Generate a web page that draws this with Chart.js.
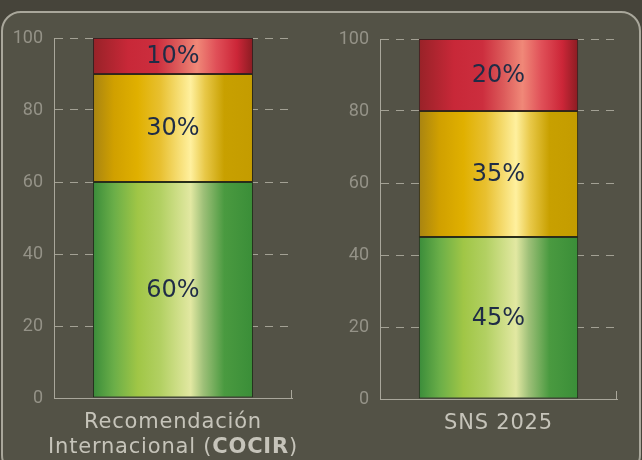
<!DOCTYPE html>
<html>
<head>
<meta charset="utf-8">
<script src="https://cdn.jsdelivr.net/npm/chart.js"></script>
<style>
  html, body { margin: 0; padding: 0; }
  body { width: 642px; height: 460px; background: #46443a; position: relative; overflow: hidden; }
  #panel {
    position: absolute; left: 1px; top: 11px; width: 636px; height: 460px;
    background: #535246; border: 2px solid #a9a79b; border-radius: 20px;
  }
  #wrapLeft { position: absolute; left: 0; top: 0; width: 320px; height: 460px; }
  #wrapRight { position: absolute; left: 320px; top: 0; width: 322px; height: 460px; }
</style>
</head>
<body>
<div id="panel"></div>
<div id="wrapLeft"><canvas id="chartLeft"></canvas></div>
<div id="wrapRight"><canvas id="chartRight"></canvas></div>
<script>
const categories = [
    ['Recomendación', 'Internacional (COCIR)'],
    ['SNS 2025'],
];
const boldText = 'COCIR';

const greenShare = [60, 45];
const yellowShare = [30, 35];
const redShare = [10, 20];

const greenStops = [[0, '#3a8c3a'], [0.13, '#6aae48'], [0.28, '#a0c646'], [0.42, '#b2d062'], [0.61, '#e2e8a2'], [0.69, '#9ec078'], [0.82, '#4a9a40'], [1, '#3a8e38']];
const yellowStops = [[0, '#a88412'], [0.13, '#d0a000'], [0.28, '#e0b000'], [0.42, '#e8c030'], [0.61, '#fff09e'], [0.7, '#e8c848'], [0.82, '#c8a000'], [1, '#c49c00']];
const redStops = [[0, '#982228'], [0.22, '#c82838'], [0.4, '#cc2e3e'], [0.53, '#dc5a5a'], [0.65, '#f08878'], [0.77, '#e05058'], [0.9, '#cc2638'], [1, '#8a1c22']];

const barPct = 0.672;

function barGradient(stops) {
    return function (ctx) {
        const chart = ctx.chart;
        const x = chart.scales.x;
        if (!x || !chart.chartArea) return stops[2][1];
        const center = x.getPixelForValue(ctx.dataIndex);
        const half = x.width * barPct / 2;
        const g = chart.ctx.createLinearGradient(center - half, 0, center + half, 0);
        stops.forEach(s => g.addColorStop(s[0], s[1]));
        return g;
    };
}

const valueLabels = {
    id: 'valueLabels',
    afterDatasetsDraw(chart) {
        const ctx = chart.ctx;
        ctx.save();
        ctx.font = '24px "DejaVu Sans"';
        ctx.fillStyle = '#1f2c46';
        ctx.textAlign = 'center';
        ctx.textBaseline = 'middle';
        chart.data.datasets.forEach((ds, i) => {
            chart.getDatasetMeta(i).data.forEach((bar, j) => {
                const p = bar.getCenterPoint();
                ctx.fillText(ds.data[j] + '%', p.x, p.y + 1);
            });
        });
        ctx.restore();
    }
};

const axisDecor = {
    id: 'axisDecor',
    afterDraw(chart) {
        const ctx = chart.ctx;
        const a = chart.chartArea;
        ctx.save();
        ctx.strokeStyle = '#a9a79b';
        ctx.lineWidth = 1;
        ctx.beginPath();
        ctx.moveTo(a.right - 0.5, a.bottom - 8);
        ctx.lineTo(a.right - 0.5, a.bottom);
        ctx.stroke();

        // category labels, with the bold part
        const x = chart.scales.x;
        ctx.fillStyle = '#c6c4ba';
        ctx.textBaseline = 'middle';
        ctx.textAlign = 'left';
        if ('letterSpacing' in ctx) ctx.letterSpacing = '0.8px';
        chart.data.labels.forEach((lines, j) => {
            const cx = x.getPixelForValue(j);
            lines.forEach((line, k) => {
                const parts = [];
                const at = line.indexOf(boldText);
                if (at >= 0) {
                    parts.push([line.slice(0, at), false], [boldText, true], [line.slice(at + boldText.length), false]);
                } else {
                    parts.push([line, false]);
                }
                let total = 0;
                parts.forEach(p => {
                    ctx.font = (p[1] ? 'bold ' : '') + '21px "DejaVu Sans"';
                    p.push(ctx.measureText(p[0]).width);
                    total += p[2];
                });
                let px = cx - total / 2;
                const py = a.bottom + 25 + k * 25;
                parts.forEach(p => {
                    ctx.font = (p[1] ? 'bold ' : '') + '21px "DejaVu Sans"';
                    ctx.fillText(p[0], px, py);
                    px += p[2];
                });
            });
        });
        ctx.restore();
    }
};

function makeChart(id, idx, yWidth, padTop, padRight, xHeight) {
    return new Chart(document.getElementById(id), {
        type: 'bar',
        data: {
            labels: [categories[idx]],
            datasets: [{
                label: 'verde',
                data: [greenShare[idx]],
                backgroundColor: barGradient(greenStops),
                borderColor: '#23301c',
                borderWidth: 1,
                borderSkipped: false,
            }, {
                label: 'amarillo',
                data: [yellowShare[idx]],
                backgroundColor: barGradient(yellowStops),
                borderColor: '#2e2a18',
                borderWidth: 1,
                borderSkipped: false,
            }, {
                label: 'rojo',
                data: [redShare[idx]],
                backgroundColor: barGradient(redStops),
                borderColor: '#3a2020',
                borderWidth: 1,
                borderSkipped: false,
            }]
        },
        options: {
            responsive: true,
            maintainAspectRatio: false,
            animation: false,
            events: [],
            datasets: { bar: { barPercentage: barPct, categoryPercentage: 1 } },
            layout: { padding: { top: padTop, right: padRight, left: 0, bottom: 0 } },
            plugins: { legend: { display: false }, tooltip: { enabled: false } },
            scales: {
                x: {
                    stacked: true,
                    grid: { display: false },
                    border: { display: true, color: '#a9a79b', width: 1 },
                    ticks: { display: false },
                    afterFit: s => { s.height = xHeight; },
                },
                y: {
                    stacked: true,
                    min: 0,
                    max: 100,
                    ticks: { stepSize: 20, padding: 11, color: '#949287', font: { family: 'Roboto', size: 18 } },
                    grid: { color: '#a3a194', drawTicks: false, lineWidth: 1 },
                    border: { display: true, color: '#a9a79b', width: 1, dash: [8, 7] },
                    afterFit: s => { s.width = yWidth; },
                }
            }
        },
        plugins: [valueLabels, axisDecor]
    });
}

makeChart('chartLeft', 0, 54, 38, 28, 62);
makeChart('chartRight', 1, 60, 39, 25, 61);
</script>
</body>
</html>
